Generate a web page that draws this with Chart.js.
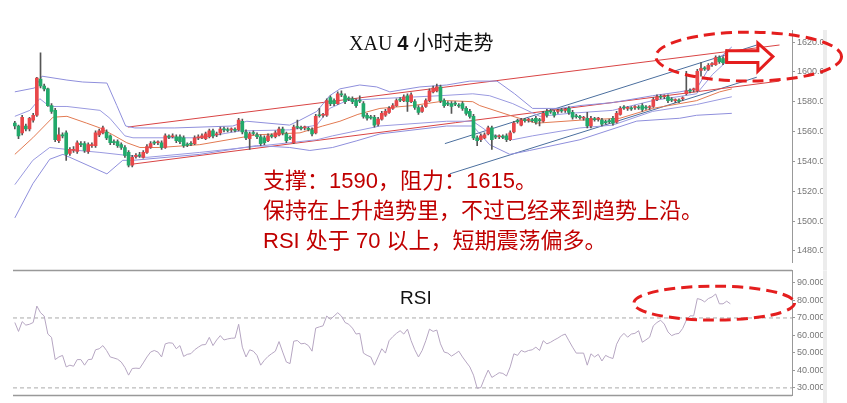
<!DOCTYPE html>
<html>
<head>
<meta charset="utf-8">
<script src="https://cdn.jsdelivr.net/npm/chart.js@4.4.1/dist/chart.umd.min.js"></script>
<style>
  body { margin: 0; background: #fff; }
  #wrap { position: relative; width: 847px; height: 403px; overflow: hidden; }
  canvas { position: absolute; left: 0; }
  .title { position: absolute; left: 349px; top: 29px; font-size: 20px; line-height: 26px; color: #111; white-space: nowrap; font-family: "Liberation Serif", "Noto Sans CJK SC", serif; }
  .title b { font-family: "Liberation Sans", sans-serif; }
  .title .cn { font-family: "Noto Sans CJK SC", sans-serif; }
  .note { position: absolute; left: 263px; top: 166px; font-size: 22px; line-height: 30px; color: #c00000; white-space: nowrap; font-family: "Liberation Sans", "Noto Sans CJK SC", sans-serif; }
  .rsi-label { position: absolute; left: 400px; top: 287px; font-size: 19px; line-height: 22px; color: #111; font-family: "Liberation Sans", sans-serif; }
</style>
</head>
<body>
<div id="wrap">
  <canvas id="main" width="847" height="270" style="top:0"></canvas>
  <canvas id="rsi" width="847" height="140" style="top:263px"></canvas>
  <div class="title">XAU <b>4</b> <span class="cn">小时走势</span></div>
  <div class="note">支撑：1590，阻力：1615。<br>保持在上升趋势里，不过已经来到趋势上沿。<br>RSI 处于 70 以上，短期震荡偏多。</div>
  <div class="rsi-label">RSI</div>
</div>
<script>
// 4h candles, one per bar index
const openP = [
  1565.6,1563.7,1559.1,1563.7,1561.7,1567.6,1570.9,1595.1,1590.5,1588.6,
  1577.4,1574.2,1553.8,1557.8,1559.1,1545.3,1547.3,1546.6,1551.9,1551.9,
  1546.6,1550.6,1550.6,1557.8,1559.1,1559.7,1557.1,1553.2,1553.2,1551.2,
  1549.3,1546.0,1537.5,1543.4,1544.0,1542.7,1546.0,1549.3,1552.5,1552.5,
  1552.5,1549.3,1556.5,1556.5,1556.5,1556.5,1555.8,1551.2,1551.9,1551.9,
  1555.8,1555.8,1555.2,1556.5,1560.4,1557.8,1559.1,1561.7,1561.1,1561.1,
  1561.1,1561.1,1566.9,1559.7,1555.2,1559.1,1557.8,1556.5,1555.8,1553.8,
  1557.1,1556.5,1557.8,1561.7,1558.4,1555.8,1552.5,1563.0,1562.4,1562.4,
  1561.7,1561.1,1559.1,1570.9,1570.9,1570.9,1582.7,1580.7,1578.7,1585.3,
  1584.0,1582.0,1582.0,1580.7,1580.7,1578.7,1570.9,1569.6,1569.6,1565.0,
  1568.3,1570.9,1572.8,1575.5,1577.4,1581.4,1580.7,1584.0,1580.0,1580.0,
  1576.1,1573.5,1576.8,1580.7,1586.6,1587.3,1589.9,1580.7,1578.7,1578.7,
  1578.7,1577.4,1578.7,1575.5,1573.5,1570.2,1555.8,1554.5,1555.8,1558.4,
  1562.4,1556.5,1556.5,1556.5,1557.1,1554.5,1559.7,1566.9,1564.3,1567.6,
  1567.6,1567.6,1568.9,1567.6,1566.9,1573.5,1573.5,1572.8,1573.5,1574.2,
  1574.2,1575.5,1572.8,1570.2,1569.6,1568.9,1568.9,1563.7,1568.3,1568.3,
  1567.6,1566.3,1566.9,1568.9,1566.3,1571.5,1576.1,1575.5,1575.5,1576.1,
  1576.1,1577.4,1576.1,1576.1,1576.8,1581.4,1583.3,1583.3,1583.3,1581.4,
  1580.7,1580.7,1582.0,1585.3,1587.3,1587.9,1587.3,1601.0,1602.3,1601.7,
  1604.9,1604.9,1609.5,1608.9,1606.2,1610.8
]
const highP = [
  1566.9,1564.3,1570.9,1565.0,1569.6,1572.2,1596.4,1612.8,1591.8,1589.2,
  1578.7,1575.5,1562.4,1559.1,1560.4,1549.3,1549.9,1553.8,1553.2,1553.2,
  1552.5,1552.5,1560.4,1561.7,1563.7,1561.1,1557.8,1554.5,1554.5,1552.5,
  1550.6,1547.3,1544.0,1545.3,1546.0,1547.3,1551.2,1553.2,1553.8,1553.8,
  1553.8,1558.4,1557.8,1558.4,1557.8,1557.8,1557.1,1552.5,1553.2,1557.1,
  1557.8,1558.4,1559.7,1561.7,1561.7,1559.7,1563.0,1563.0,1562.4,1562.4,
  1562.4,1568.9,1568.3,1561.1,1559.7,1560.4,1559.1,1557.8,1557.1,1558.4,
  1558.4,1560.4,1563.0,1563.0,1559.7,1557.1,1564.3,1567.6,1563.7,1563.7,
  1563.0,1562.4,1571.5,1575.5,1572.2,1582.0,1584.0,1582.0,1586.6,1587.3,
  1585.3,1583.3,1583.3,1582.0,1584.0,1580.0,1572.2,1570.9,1570.9,1569.6,
  1573.5,1574.8,1576.8,1578.7,1582.0,1582.7,1584.6,1585.3,1585.9,1581.4,
  1577.4,1577.4,1582.0,1588.6,1590.5,1591.8,1591.2,1582.0,1580.0,1580.0,
  1580.0,1578.7,1580.0,1576.8,1574.8,1571.5,1557.1,1558.4,1559.1,1563.7,
  1563.7,1557.8,1557.8,1557.8,1558.4,1560.4,1566.9,1568.3,1568.9,1568.9,
  1568.9,1568.9,1570.2,1568.9,1573.5,1574.8,1574.8,1574.2,1574.8,1575.5,
  1575.5,1576.8,1574.2,1571.5,1570.9,1570.2,1572.8,1570.2,1569.6,1569.6,
  1568.9,1567.6,1568.3,1570.2,1573.5,1576.8,1577.4,1576.8,1576.8,1577.4,
  1577.4,1578.7,1577.4,1577.4,1582.7,1584.6,1584.6,1584.6,1584.6,1582.7,
  1582.0,1582.0,1583.3,1600.4,1588.6,1589.2,1601.7,1606.2,1603.6,1605.6,
  1606.2,1610.8,1610.8,1610.2,1614.8,1611.5
]
const lowP = [
  1561.7,1555.2,1557.8,1560.4,1560.4,1566.3,1570.2,1589.2,1587.3,1576.8,
  1572.2,1553.2,1552.5,1555.8,1540.7,1544.0,1546.0,1545.3,1549.9,1546.0,
  1545.3,1549.3,1549.3,1556.5,1558.4,1554.5,1551.2,1551.2,1549.3,1548.0,
  1542.7,1536.2,1536.2,1542.1,1542.7,1542.1,1545.3,1548.6,1551.2,1551.2,
  1548.0,1548.6,1555.2,1555.8,1552.5,1551.9,1549.3,1549.9,1550.6,1551.2,
  1554.5,1555.2,1554.5,1555.8,1555.8,1556.5,1557.8,1559.7,1559.7,1559.7,
  1559.7,1560.4,1558.4,1554.5,1548.0,1557.8,1555.2,1550.6,1551.2,1553.2,
  1555.8,1555.8,1557.1,1557.8,1552.5,1554.5,1551.9,1561.7,1561.1,1561.1,
  1560.4,1557.1,1558.4,1569.6,1569.6,1570.2,1577.4,1577.4,1578.1,1583.3,
  1578.7,1580.7,1578.7,1576.1,1579.4,1568.9,1567.6,1568.3,1563.0,1563.7,
  1567.6,1570.2,1572.2,1574.8,1576.8,1580.0,1580.0,1573.5,1579.4,1574.8,
  1571.5,1572.8,1576.1,1580.0,1585.9,1586.6,1579.4,1576.1,1577.4,1572.2,
  1577.4,1576.1,1574.2,1570.9,1568.9,1554.5,1550.6,1553.2,1555.2,1557.8,
  1548.0,1555.2,1555.2,1555.2,1553.2,1553.8,1559.1,1565.6,1563.7,1566.3,
  1566.3,1566.3,1565.0,1563.7,1566.3,1569.6,1572.2,1569.6,1572.2,1572.8,
  1572.8,1571.5,1568.3,1568.9,1568.3,1567.6,1562.4,1562.4,1567.0,1567.0,
  1563.7,1565.0,1565.6,1564.3,1565.6,1570.9,1574.8,1574.2,1574.2,1574.8,
  1574.8,1573.5,1574.8,1574.8,1576.1,1580.7,1582.0,1582.0,1579.4,1580.0,
  1579.4,1579.4,1580.7,1584.6,1585.9,1586.6,1586.6,1597.1,1601.0,1601.0,
  1603.6,1604.3,1605.6,1604.9,1605.6,1609.5
]
const closeP = [
  1563.7,1557.1,1569.6,1561.7,1568.9,1570.9,1595.8,1590.5,1588.6,1577.4,
  1573.5,1554.5,1557.8,1557.1,1544.7,1548.0,1548.0,1552.5,1551.2,1547.3,
  1551.2,1551.2,1559.1,1560.4,1562.4,1555.8,1552.5,1552.5,1550.6,1549.3,
  1544.0,1537.5,1542.7,1544.0,1543.7,1546.0,1549.9,1551.9,1552.2,1552.8,
  1549.3,1557.1,1556.2,1557.1,1553.8,1553.2,1550.6,1550.9,1551.5,1555.8,
  1556.5,1557.1,1558.4,1560.4,1557.1,1558.4,1561.7,1561.1,1560.7,1561.4,
  1560.8,1567.6,1559.7,1555.8,1558.4,1558.7,1556.5,1551.9,1552.5,1557.1,
  1556.8,1559.1,1561.7,1559.1,1553.8,1555.5,1563.0,1562.7,1562.1,1562.7,
  1561.4,1558.4,1570.2,1570.6,1571.2,1580.7,1578.7,1578.7,1585.3,1584.6,
  1580.0,1581.7,1580.0,1577.4,1580.4,1570.2,1568.9,1569.2,1564.3,1568.3,
  1572.2,1573.5,1575.5,1577.4,1580.7,1581.1,1583.3,1580.0,1584.6,1576.1,
  1572.8,1576.1,1580.7,1587.3,1589.2,1589.9,1580.7,1577.4,1578.4,1576.8,
  1578.4,1577.1,1575.5,1572.2,1570.2,1555.8,1553.8,1557.1,1557.8,1562.4,
  1554.5,1556.2,1556.8,1556.2,1554.5,1559.1,1565.6,1566.6,1567.6,1567.3,
  1567.9,1567.3,1566.3,1567.3,1572.2,1570.9,1573.2,1570.9,1573.8,1573.9,
  1574.5,1572.8,1569.6,1569.9,1569.3,1569.2,1563.7,1568.9,1568.0,1568.6,
  1565.0,1566.0,1566.6,1565.6,1572.2,1575.5,1575.8,1575.8,1575.2,1576.4,
  1575.8,1574.8,1575.8,1576.4,1581.4,1583.3,1583.0,1583.6,1580.7,1581.1,
  1581.0,1580.4,1582.3,1587.3,1587.0,1588.2,1600.4,1602.3,1602.0,1604.3,
  1605.2,1609.5,1606.9,1606.2,1612.8,1610.2
]

// RSI per bar
const rsiValues = [
  67.4,62.3,67.9,65.9,66.4,67.4,76.8,73.0,71.1,60.8,
  58.9,46.2,47.7,48.6,42.0,43.0,42.4,46.2,46.2,43.0,
  46.2,46.4,51.8,52.4,54.2,51.4,47.7,47.1,46.4,44.8,
  41.7,37.3,41.1,41.3,41.1,44.3,47.7,50.5,51.4,50.5,
  47.7,55.2,55.8,55.6,52.4,54.2,48.0,49.2,49.6,51.8,
  53.3,54.6,54.8,58.9,54.2,57.4,59.9,57.4,58.0,58.4,
  58.5,66.4,53.3,47.7,51.8,51.0,48.6,43.0,45.8,48.0,
  49.6,51.0,56.5,50.5,44.8,43.9,56.7,57.1,55.2,55.5,
  54.2,51.0,64.2,64.9,65.5,71.1,69.2,71.1,73.0,71.1,
  67.4,66.4,64.2,60.8,61.2,49.9,48.6,47.7,43.0,47.7,
  52.4,49.9,57.0,59.3,61.2,62.7,60.8,63.6,57.0,51.8,
  47.7,51.4,57.0,63.6,62.3,63.1,55.2,50.5,49.9,48.2,
  49.5,51.0,47.7,44.8,42.0,37.3,29.8,30.2,35.5,40.2,
  36.0,37.3,38.7,38.3,36.8,42.0,49.5,48.6,51.4,50.5,
  51.4,51.8,53.3,51.4,57.0,55.2,56.1,57.4,58.5,59.9,
  60.8,57.0,53.3,49.9,49.9,49.9,43.0,49.5,47.7,49.2,
  45.4,48.6,47.5,46.8,55.0,59.0,61.2,59.0,60.8,61.2,
  62.7,56.1,57.5,59.0,65.5,67.4,68.7,66.5,62.0,59.9,
  60.8,61.2,64.0,68.7,71.2,71.2,81.1,80.5,79.2,81.1,
  82.0,83.7,78.1,78.1,79.6,78.1
]

// bollinger bands / moving average, read as [bar index, price] vertices
const bandUpper2 = [[0,1586.6],[5.4,1589.2],[7.4,1597.1],[14.2,1594.5],[18.5,1593.2],[25.1,1592.5],[27.8,1577.4],[30.2,1563.7],[32.7,1562.4],[43.6,1562.4],[59.4,1563.7],[63.2,1566.9],[74.9,1564.3],[77.7,1567.6],[82.3,1573.5],[85.8,1584.0],[88.6,1588.6],[94.0,1591.2],[98.6,1589.9],[102.2,1586.6],[110.4,1589.9],[117.7,1591.2],[124.0,1593.8],[131.4,1593.8],[136.2,1585.3],[141.1,1575.5],[148.5,1575.5],[154.0,1577.4],[162.9,1579.4],[173.8,1584.0],[181.2,1586.6],[185.8,1588.6],[189.4,1603.6],[195.4,1616.7]]
const bandUpper1 = [[0,1570.2],[4.1,1574.2],[6.8,1582.0],[9.5,1576.8],[14.2,1576.8],[23.2,1574.2],[25.9,1568.9],[30.0,1557.1],[32.2,1555.8],[50.4,1555.8],[61.3,1560.4],[74.9,1561.1],[82.3,1564.3],[85.8,1575.5],[90.5,1580.7],[99.0,1582.0],[115.8,1584.0],[124.8,1585.3],[129.4,1584.0],[135.7,1578.7],[143.1,1570.2],[151.2,1572.2],[162.9,1574.2],[173.8,1580.7],[185.8,1585.3],[190.2,1598.4],[195.4,1610.2]]
const maLine = [[0,1544.7],[4.9,1555.8],[10.4,1569.6],[14.2,1570.2],[19.6,1565.6],[23.2,1562.4],[26.7,1557.8],[30.5,1552.5],[34.1,1549.3],[39.5,1549.3],[50.4,1551.2],[65.9,1557.8],[77.7,1559.1],[83.9,1563.7],[88.6,1566.9],[93.5,1571.5],[99.5,1575.5],[108.4,1577.4],[117.7,1580.7],[124.8,1580.0],[126.7,1577.4],[135.7,1570.2],[142.2,1565.6],[154.0,1567.6],[164.9,1568.9],[173.8,1575.5],[185.8,1580.7],[192.1,1586.6],[195.4,1588.6]]
const bandLower1 = [[0,1524.4],[4.9,1540.7],[9.5,1549.3],[14.2,1548.0],[23.2,1546.0],[30.5,1544.0],[36.0,1542.7],[50.4,1546.0],[74.9,1552.5],[82.3,1554.5],[86.6,1557.1],[99.5,1563.7],[117.7,1566.9],[124.8,1566.9],[130.2,1557.8],[135.7,1554.5],[141.1,1557.1],[154.0,1562.4],[162.9,1564.3],[173.8,1573.5],[185.8,1578.1],[195.4,1583.3]]
const bandLower2 = [[0,1502.1],[4.9,1525.0],[9.5,1541.4],[13.1,1544.7],[15.0,1542.7],[25.1,1531.6],[29.4,1540.7],[32.2,1540.7],[50.4,1544.7],[65.9,1550.6],[74.9,1549.3],[80.4,1547.3],[86.6,1549.3],[93.2,1553.8],[99.5,1558.4],[117.7,1563.7],[124.8,1563.7],[129.4,1551.2],[134.9,1544.7],[140.3,1547.3],[154.0,1554.5],[169.5,1567.0],[181.2,1568.9],[185.8,1570.9],[195.4,1572.2]]

// hand drawn trend lines
const redUpper = [[30.8,1563.0],[208.4,1618.0]]
const redLower = [[31.9,1538.1],[208.4,1593.8]]
const blueUpper = [[117.2,1551.9],[202.2,1618.0]]
const blueLower = [[118.5,1531.6],[202.2,1596.4]]

const X_MIN = -0.5, X_MAX = 211.8
const RED = '#e8474a', GREEN = '#22a96b'
const MARK = '#e41e1e'

const pts = arr => arr.map(p => ({x: p[0], y: p[1]}))
const lineSet = (data, color) => ({
  type: 'line', data: pts(data), borderColor: color, borderWidth: 1,
  pointRadius: 0, fill: false, tension: 0, order: 3
})

function stripAndClip(chart, top) {
  const ctx = chart.ctx
  ctx.save()
  ctx.fillStyle = '#ececec'
  ctx.fillRect(823, top, 4, chart.height - top)
  ctx.fillStyle = '#fff'
  ctx.fillRect(827, top, 20, chart.height - top)
  ctx.restore()
}

function dashedEllipse(ctx, cx, cy, rx, ry) {
  ctx.save()
  ctx.strokeStyle = MARK
  ctx.lineWidth = 3
  ctx.setLineDash([11, 6])
  ctx.beginPath()
  ctx.ellipse(cx, cy, rx, ry, 0, 0, Math.PI * 2)
  ctx.stroke()
  ctx.restore()
}

const mainDecor = {
  id: 'mainDecor',
  afterDraw(chart) {
    const {ctx} = chart
    const x = chart.scales.x, y = chart.scales.y
    stripAndClip(chart, chart.chartArea.top)

    // ellipse round the latest bars
    const cx = x.getPixelForValue(200), cy = y.getPixelForValue(1610.2)
    dashedEllipse(ctx, cx, cy, x.getPixelForValue(225.3) - cx, cy - y.getPixelForValue(1626.6))

    // hollow arrow pointing right
    const px = v => x.getPixelForValue(v), py = v => y.getPixelForValue(v)
    ctx.save()
    ctx.beginPath()
    ctx.moveTo(px(194), py(1614.1))
    ctx.lineTo(px(202.5), py(1614.1))
    ctx.lineTo(px(202.5), py(1619.3))
    ctx.lineTo(px(206.6), py(1610.2))
    ctx.lineTo(px(202.5), py(1600.4))
    ctx.lineTo(px(202.5), py(1606.2))
    ctx.lineTo(px(194), py(1606.2))
    ctx.closePath()
    ctx.fillStyle = '#fff'
    ctx.fill()
    ctx.strokeStyle = MARK
    ctx.lineWidth = 3
    ctx.lineJoin = 'miter'
    ctx.stroke()
    ctx.restore()
  }
}

const rsiDecor = {
  id: 'rsiDecor',
  afterDraw(chart) {
    const {ctx, chartArea} = chart
    const x = chart.scales.x, y = chart.scales.y
    ctx.save()
    ctx.strokeStyle = '#999'
    ctx.lineWidth = 1.5
    ctx.beginPath()
    ctx.moveTo(chartArea.left, chartArea.top)
    ctx.lineTo(chartArea.right, chartArea.top)
    ctx.moveTo(chartArea.left, chartArea.bottom)
    ctx.lineTo(chartArea.right, chartArea.bottom)
    ctx.stroke()
    ctx.restore()
    stripAndClip(chart, chartArea.top)

    const cx = x.getPixelForValue(190.6), cy = y.getPixelForValue(78.5)
    dashedEllipse(ctx, cx, cy, x.getPixelForValue(212.5) - cx, cy - y.getPixelForValue(88.2))
  }
}

const axisY = (min, max, step, digits) => ({
  position: 'right', min: min, max: max,
  ticks: {
    stepSize: step, includeBounds: false, color: '#777', padding: 2,
    font: {size: 9, family: '"Liberation Sans", Arial, sans-serif'},
    callback: v => Number(v).toFixed(digits)
  },
  grid: {drawOnChartArea: false, tickLength: 3, color: '#999'},
  border: {color: '#999'},
  afterFit: s => { s.width = 55 }
})

const idx = closeP.map((c, i) => i)

new Chart(document.getElementById('main'), {
  type: 'bar',
  data: {
    datasets: [
      {
        data: idx.map(i => ({x: i, y: [lowP[i], highP[i]]})),
        backgroundColor: '#555', barThickness: 1, grouped: false, order: 2
      },
      {
        data: idx.map(i => ({x: i, y: [openP[i], closeP[i]]})),
        backgroundColor: idx.map(i => closeP[i] >= openP[i] ? RED : GREEN),
        barThickness: 3, grouped: false, minBarLength: 1, order: 1
      },
      lineSet(bandUpper2, '#8f8fdc'),
      lineSet(bandUpper1, '#9a9ae0'),
      lineSet(maLine, '#e27a52'),
      lineSet(bandLower1, '#9a9ae0'),
      lineSet(bandLower2, '#8f8fdc'),
      lineSet(redUpper, '#d94444'),
      lineSet(redLower, '#d94444'),
      lineSet(blueUpper, '#4b6f9e'),
      lineSet(blueLower, '#4b6f9e')
    ]
  },
  options: {
    responsive: false, animation: false, devicePixelRatio: 1,
    layout: {padding: {left: 13, top: 30, right: 0, bottom: 2}},
    plugins: {legend: {display: false}, tooltip: {enabled: false}},
    scales: {
      x: {type: 'linear', min: X_MIN, max: X_MAX, offset: false, display: false},
      y: axisY(1472.14, 1628.06, 20, 2)
    }
  },
  plugins: [mainDecor]
})

new Chart(document.getElementById('rsi'), {
  type: 'line',
  data: {
    datasets: [
      {
        data: rsiValues.map((v, i) => ({x: i, y: v})),
        borderColor: '#b6a6c2', borderWidth: 1, pointRadius: 0, tension: 0
      },
      {
        data: [{x: X_MIN, y: 70}, {x: X_MAX, y: 70}],
        borderColor: '#aaa', borderWidth: 1, borderDash: [4, 3], pointRadius: 0
      },
      {
        data: [{x: X_MIN, y: 30}, {x: X_MAX, y: 30}],
        borderColor: '#aaa', borderWidth: 1, borderDash: [4, 3], pointRadius: 0
      }
    ]
  },
  options: {
    responsive: false, animation: false, devicePixelRatio: 1,
    layout: {padding: {left: 13, top: 7, right: 0, bottom: 7}},
    plugins: {legend: {display: false}, tooltip: {enabled: false}},
    scales: {
      x: {type: 'linear', min: X_MIN, max: X_MAX, display: false},
      y: axisY(25.6, 97.2, 10, 4)
    }
  },
  plugins: [rsiDecor]
})
</script>
</body>
</html>
